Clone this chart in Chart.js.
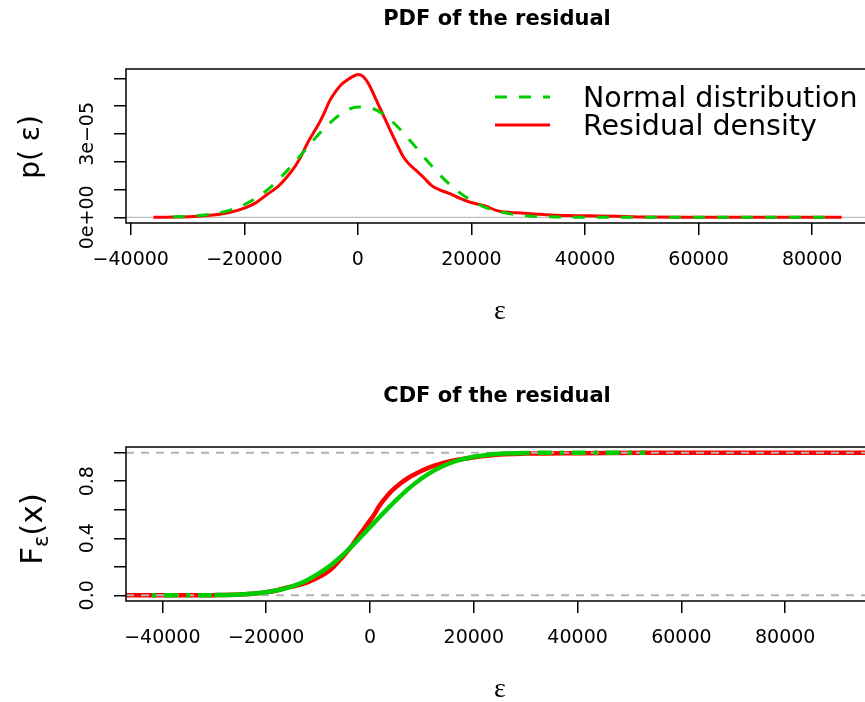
<!DOCTYPE html>
<html>
<head>
<meta charset="utf-8">
<script src="https://cdn.jsdelivr.net/npm/chart.js@4.4.1/dist/chart.umd.min.js"></script>
<style>
html, body { margin: 0; padding: 0; overflow: hidden; background: #fff; }
#wrap { position: relative; width: 865px; height: 702px; overflow: hidden; }
canvas { position: absolute; left: 0; }
</style>
</head>
<body>
<div id="wrap">
<canvas id="pdf" width="880" height="351" style="top:0"></canvas>
<canvas id="cdf" width="880" height="351" style="top:351px"></canvas>
</div>
<script>
// upper panel: kernel density of the residuals (red) and fitted normal (green)
var densX = [-36000, -32000, -28000, -25500, -22500, -20000, -18000, -16000, -14000, -12500, -11000, -10000, -9000, -8000, -7000, -6000, -5000, -4000, -3000, -2000, -1000, 0, 600, 1300, 2000, 2700, 3500, 4500, 5500, 6800, 8000, 9000, 10300, 11500, 13000, 14500, 16200, 18000, 19500, 21000, 22500, 24500, 26000, 28000, 31000, 34000, 38000, 42600, 47000, 51500, 60000, 70000, 85200]
var densY = [0, 0.01e-5, 0.04e-5, 0.08e-5, 0.18e-5, 0.33e-5, 0.52e-5, 0.82e-5, 1.12e-5, 1.45e-5, 1.85e-5, 2.2e-5, 2.62e-5, 2.98e-5, 3.32e-5, 3.72e-5, 4.18e-5, 4.5e-5, 4.76e-5, 4.92e-5, 5.05e-5, 5.14e-5, 5.11e-5, 4.98e-5, 4.76e-5, 4.46e-5, 4.1e-5, 3.66e-5, 3.22e-5, 2.66e-5, 2.18e-5, 1.92e-5, 1.68e-5, 1.45e-5, 1.14e-5, 0.98e-5, 0.85e-5, 0.68e-5, 0.56e-5, 0.48e-5, 0.4e-5, 0.24e-5, 0.19e-5, 0.16e-5, 0.12e-5, 0.08e-5, 0.06e-5, 0.05e-5, 0.03e-5, 0.01e-5, 0.005e-5, 0.001e-5, 0]
var normX = [-32600, -30000, -27500, -25000, -22500, -20000, -17500, -15000, -12500, -10000, -7500, -5000, -2500, 0, 2500, 5000, 7500, 10000, 12500, 15000, 17500, 20000, 22500, 25000, 27500, 30000, 32500, 35000, 40000, 50000, 83500]
var normY = [0.014e-5, 0.033e-5, 0.07e-5, 0.14e-5, 0.26e-5, 0.46e-5, 0.75e-5, 1.15e-5, 1.67e-5, 2.25e-5, 2.85e-5, 3.38e-5, 3.78e-5, 3.97e-5, 3.92e-5, 3.63e-5, 3.15e-5, 2.57e-5, 1.96e-5, 1.41e-5, 0.95e-5, 0.6e-5, 0.35e-5, 0.2e-5, 0.1e-5, 0.05e-5, 0.023e-5, 0.01e-5, 0.001e-5, 0, 0]

// lower panel: empirical cdf (red) and normal cdf (green)
var empX = [-47000, -36000, -30000, -25000, -22000, -20000, -18000, -16500, -14500, -12500, -10300, -8500, -7000, -5500, -3850, -2500, -1300, 0, 700, 1600, 2600, 4000, 5800, 7500, 9000, 11000, 12900, 15500, 18600, 21500, 25000, 30000, 40000, 55000, 70000, 96000]
var empY = [0, 0, 0.001, 0.005, 0.012, 0.022, 0.034, 0.05, 0.065, 0.085, 0.12, 0.155, 0.2, 0.26, 0.33, 0.4, 0.46, 0.525, 0.56, 0.615, 0.665, 0.725, 0.782, 0.826, 0.856, 0.89, 0.914, 0.94, 0.96, 0.975, 0.988, 0.994, 0.997, 0.999, 1, 1]
var ncdfX = [-42000, -35000, -30000, -25000, -20000, -17500, -15000, -12500, -10000, -7500, -5000, -2500, 0, 2500, 5000, 7500, 10000, 12500, 15000, 17500, 20000, 22500, 25000, 30000, 35000, 53000]
var ncdfY = [0, 0.0002, 0.0014, 0.006, 0.022, 0.037, 0.063, 0.099, 0.15, 0.213, 0.291, 0.381, 0.477, 0.574, 0.666, 0.75, 0.821, 0.878, 0.921, 0.951, 0.971, 0.984, 0.992, 0.998, 0.9995, 1]

// ticks
var xTickVals = [-40000, -20000, 0, 20000, 40000, 60000, 80000]
var pdfYTicks = [0, 1e-5, 2e-5, 3e-5, 4e-5, 5e-5]
var pdfYTickVals = [0, 3e-5]
var pdfYTickText = ['0e+00', '3e\u221205']
var cdfYTicks = [0, 0.2, 0.4, 0.6, 0.8, 1]
var cdfYTickVals = [0, 0.4, 0.8]
var cdfYTickText = ['0.0', '0.4', '0.8']
var pdfLegend = ['Normal distribution', 'Residual density']
var cdfLegend = ['Normal distribution', 'Empirical distribution']

var RED = '#FF0000', GREEN = '#00CD00', GRAY = '#BEBEBE'
var SANS = '"DejaVu Sans"'

function pts(xs, ys) { return xs.map((x, i) => ({x: x, y: ys[i]})) }

function scales(xr, yr, yticks, plotBottom, H) {
  return {
    x: {
      type: 'linear', min: xr[0], max: xr[1],
      afterBuildTicks: s => { s.ticks = xTickVals.map(v => ({value: v})) },
      ticks: {
        autoSkip: false, maxRotation: 0, minRotation: 0,
        color: '#000', padding: 14, font: {family: 'DejaVu Sans', size: 19},
        callback: v => String(v).replace('-', '\u2212')
      },
      grid: {drawOnChartArea: false, drawTicks: true, tickLength: 12, color: '#000', tickColor: '#000', lineWidth: 1.5},
      border: {display: false},
      afterFit: s => { s.height = H - plotBottom }
    },
    y: {
      type: 'linear', min: yr[0], max: yr[1],
      afterBuildTicks: s => { s.ticks = yticks.map(v => ({value: v})) },
      ticks: {display: false},
      grid: {drawOnChartArea: false, drawTicks: true, tickLength: 12, color: '#000', tickColor: '#000', lineWidth: 1.5},
      border: {display: false},
      afterFit: s => { s.width = 126 }
    }
  }
}

function drawYTicks(chart, vals, txt) {
  var c = chart.ctx, y = chart.scales.y
  c.save()
  c.font = '19px ' + SANS
  c.fillStyle = '#000'
  c.textAlign = 'center'
  c.textBaseline = 'alphabetic'
  vals.forEach((v, i) => {
    c.save()
    c.translate(93, y.getPixelForValue(v))
    c.rotate(-Math.PI / 2)
    c.fillText(txt[i], 0, 0)
    c.restore()
  })
  c.restore()
}

function drawBox(chart) {
  var c = chart.ctx, a = chart.chartArea
  c.save()
  c.strokeStyle = '#000'
  c.lineWidth = 1.5
  c.strokeRect(a.left, a.top, a.right - a.left, a.bottom - a.top)
  c.restore()
}

function drawTitle(chart, txt, y) {
  var c = chart.ctx, a = chart.chartArea
  c.save()
  c.font = 'bold 21px ' + SANS
  c.fillStyle = '#000'
  c.textAlign = 'center'
  c.textBaseline = 'middle'
  c.fillText(txt, (a.left + a.right) / 2, y)
  c.font = '28px "Liberation Serif"'
  c.textBaseline = 'alphabetic'
  c.fillText('\u03b5', 500, a.bottom + 96)
  c.restore()
}

function legendLine(c, x0, x1, y, col, dash, w) {
  c.save()
  c.strokeStyle = col
  c.lineWidth = w
  c.setLineDash(dash)
  c.beginPath(); c.moveTo(x0, y); c.lineTo(x1, y); c.stroke()
  c.restore()
}

var pdfDecor = {
  id: 'pdfDecor',
  beforeDatasetsDraw(chart) {
    var c = chart.ctx, a = chart.chartArea, y0 = chart.scales.y.getPixelForValue(0)
    c.save()
    c.strokeStyle = GRAY; c.lineWidth = 1.2
    c.beginPath(); c.moveTo(a.left, y0); c.lineTo(a.right, y0); c.stroke()
    c.restore()
  },
  afterDraw(chart) {
    var c = chart.ctx, a = chart.chartArea
    drawBox(chart)
    drawYTicks(chart, pdfYTickVals, pdfYTickText)
    drawTitle(chart, 'PDF of the residual', 20)
    c.save()
    c.fillStyle = '#000'
    c.font = '28px ' + SANS
    c.translate(39, (a.top + a.bottom) / 2 + 1)
    c.rotate(-Math.PI / 2)
    c.textAlign = 'center'
    c.fillText('p( \u03b5)', 0, 0)
    c.restore()
    legendLine(c, 495, 550, 97, GREEN, [12, 12], 3)
    legendLine(c, 495, 550, 125, RED, [], 3)
    c.save()
    c.fillStyle = '#000'
    c.font = '28.5px ' + SANS
    c.fillText(pdfLegend[0], 583, 107)
    c.fillText(pdfLegend[1], 583, 135)
    c.restore()
  }
}

var cdfDecor = {
  id: 'cdfDecor',
  afterDatasetDraw(chart, args) {
    if (args.index !== 1) return
    var c = chart.ctx, a = chart.chartArea, y = chart.scales.y
    c.save()
    c.strokeStyle = '#B3B3B3'; c.lineWidth = 2; c.setLineDash([8, 7])
    ;[0, 1].forEach(v => {
      var p = y.getPixelForValue(v)
      c.beginPath(); c.moveTo(a.left, p); c.lineTo(a.right, p); c.stroke()
    })
    c.restore()
  },
  afterDraw(chart) {
    var c = chart.ctx, a = chart.chartArea
    drawBox(chart)
    drawYTicks(chart, cdfYTickVals, cdfYTickText)
    drawTitle(chart, 'CDF of the residual', 46)
    // F_eps(x)
    c.save()
    c.fillStyle = '#000'
    c.translate(42, (a.top + a.bottom) / 2 + 5)
    c.rotate(-Math.PI / 2)
    c.font = '31px ' + SANS
    var wF = c.measureText('F').width
    c.font = '21px ' + SANS
    var wE = c.measureText('\u03b5').width
    c.font = '31px ' + SANS
    var wX = c.measureText('(x)').width
    var x0 = -(wF + wE + wX) / 2
    c.fillText('F', x0, 0)
    c.font = '21px ' + SANS
    c.fillText('\u03b5', x0 + wF, 6)
    c.font = '31px ' + SANS
    c.fillText('(x)', x0 + wF + wE, 0)
    c.restore()
    legendLine(c, 465, 525, 475, GREEN, [4, 8, 14, 8], 3)
    legendLine(c, 465, 525, 503, RED, [], 3)
    c.save()
    c.fillStyle = '#000'
    c.font = '28.5px ' + SANS
    c.fillText(cdfLegend[0], 554, 485)
    c.fillText(cdfLegend[1], 554, 513)
    c.restore()
  }
}

Chart.defaults.font.family = 'DejaVu Sans'

new Chart('pdf', {
  type: 'scatter',
  data: {
    datasets: [{
      data: pts(normX, normY), showLine: true, borderColor: GREEN, borderWidth: 3,
      borderDash: [12, 12], pointRadius: 0, cubicInterpolationMode: 'monotone', order: 1
    }, {
      data: pts(densX, densY), showLine: true, borderColor: RED, borderWidth: 3,
      pointRadius: 0, cubicInterpolationMode: 'monotone', order: 2
    }]
  },
  options: {
    responsive: false, animation: false, devicePixelRatio: 1,
    layout: {padding: {top: 69, right: 12, left: 0, bottom: 0}},
    plugins: {legend: {display: false}, tooltip: {enabled: false}},
    scales: scales([-40840, 89840], [-0.205e-5, 5.335e-5], pdfYTicks, 223, 351)
  },
  plugins: [pdfDecor]
})

new Chart('cdf', {
  type: 'scatter',
  data: {
    datasets: [{
      data: pts(ncdfX, ncdfY), showLine: true, borderColor: GREEN, borderWidth: 4.5,
      pointRadius: 0, cubicInterpolationMode: 'monotone', order: 1,
      segment: {borderDash: ctx => (ctx.p0.parsed.x >= 30000 || ctx.p1.parsed.x <= -30000) ? [4, 8, 14, 8] : undefined}
    }, {
      data: pts(empX, empY), showLine: true, borderColor: RED, borderWidth: 4.5,
      pointRadius: 0, cubicInterpolationMode: 'monotone', order: 2
    }]
  },
  options: {
    responsive: false, animation: false, devicePixelRatio: 1,
    layout: {padding: {top: 96, right: 12, left: 0, bottom: 0}},
    plugins: {legend: {display: false}, tooltip: {enabled: false}},
    scales: scales([-47000, 95950], [-0.04, 1.04], cdfYTicks, 250, 351)
  },
  plugins: [cdfDecor]
})
</script>
</body>
</html>
